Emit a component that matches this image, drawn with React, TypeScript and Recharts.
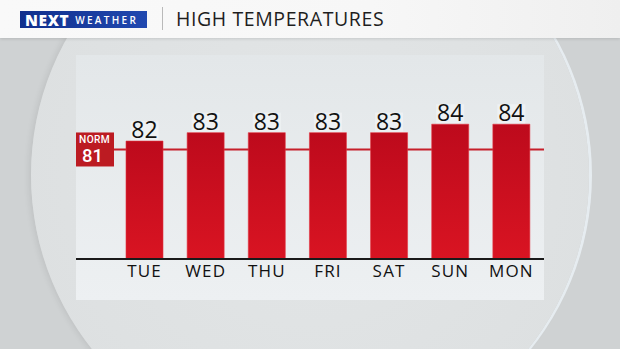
import { BarChart, Bar, XAxis, YAxis, ReferenceLine, LabelList } from "recharts";

const DAYS = ["TUE", "WED", "THU", "FRI", "SAT", "SUN", "MON"];
const HIGHS = [82, 83, 83, 83, 83, 84, 84];
const NORMAL_HIGH = 81;
const Y_DOMAIN = [68, 88];

const TITLE = "HIGH TEMPERATURES";

const FONT = "'Open Sans', 'Noto Sans', sans-serif";
const BOX_FONT = "Roboto, 'Open Sans', sans-serif";
const RED_LINE = "#c61f2a";
const NORM_RED = "#bc1b22";

const data = DAYS.map((day, i) => ({ day, high: HIGHS[i] }));

const W = 620;
const H = 349;
// plot area: x 76..544, y 90.5..259
const MARGIN_TOP = 90.5;
const MARGIN_SIDE = 76;
const X_PAD = { left: 38, right: 2 };

function ValueLabel(props: any) {
  const { x, y, width, value } = props;
  const cx = x + width / 2;
  return (
    <g>
      <rect x={cx - 14} y={y - 20} width={28} height={19} fill="#eef1f3" />
      <text
        x={cx}
        y={y - 3}
        textAnchor="middle"
        fontFamily={FONT}
        fontSize={23}
        fontWeight={500}
        fill="#111"
      >
        {value}
      </text>
    </g>
  );
}

function NormLabel(props: any) {
  const { viewBox } = props;
  const x = viewBox.x;
  const y = viewBox.y;
  return (
    <g>
      <rect x={x} y={y - 17} width={38} height={34} fill={NORM_RED} />
      <text x={x + 3} y={y - 6.5} fontFamily={BOX_FONT} fontSize={10.2} fontWeight={500} fill="#fff" letterSpacing={0.4}>
        NORM
      </text>
      <text x={x + 6} y={y + 13} fontFamily={BOX_FONT} fontSize={18.5} fontWeight={500} fill="#fff">
        {NORMAL_HIGH}
      </text>
    </g>
  );
}

export default function App() {
  return (
    <div
      style={{
        position: "relative",
        width: W,
        height: H,
        overflow: "hidden",
        background: "#cfd2d3",
        fontFamily: FONT,
      }}
    >
      <style>{`body{margin:0}`}</style>
      {/* big circle backdrop */}
      <div
        style={{
          position: "absolute",
          left: 31,
          top: -104,
          width: 558,
          height: 558,
          borderRadius: "50%",
          background: "radial-gradient(circle at 50% 50%, #e3e6e7 0%, #dde0e1 75%, #cbcecf 100%)",
          boxShadow: "3px 0 0 #e6ecf0, -2px 0 6px rgba(0,0,0,0.08)",
        }}
      />
      {/* header */}
      <div
        style={{
          position: "absolute",
          left: 0,
          top: 0,
          width: W,
          height: 38,
          background: "linear-gradient(to right, #f9f9f9 0%, #f7f7f7 60%, #efefef 100%)",
          boxShadow: "0 1px 3px rgba(0,0,0,0.12)",
        }}
      >
        <div
          style={{
            position: "absolute",
            left: 20,
            top: 11,
            width: 127,
            height: 17,
            background: "linear-gradient(to right, #102f8c, #2149b0)",
            color: "#fff",
            display: "flex",
            alignItems: "center",
          }}
        >
          <span style={{ marginLeft: 5, fontSize: 15.5, fontWeight: 800, letterSpacing: 0.6 }}>NEXT</span>
          <span style={{ marginLeft: 6, fontSize: 10, fontWeight: 600, letterSpacing: 2.3 }}>WEATHER</span>
        </div>
        <div
          style={{
            position: "absolute",
            left: 162,
            top: 7,
            width: 1,
            height: 23,
            background: "#b9b9b9",
          }}
        />
        <div
          style={{
            position: "absolute",
            left: 176,
            top: 5,
            fontSize: 19.5,
            fontWeight: 500,
            letterSpacing: 0.6,
            color: "#1e1e1e",
            lineHeight: "28px",
          }}
        >
          {TITLE}
        </div>
      </div>
      {/* panel */}
      <div
        style={{
          position: "absolute",
          left: 76,
          top: 55,
          width: 468,
          height: 245,
          background: "linear-gradient(to bottom, #e3e7e9, #edf0f2)",
        }}
      />
      {/* normal line layer (behind the bars) */}
      <div style={{ position: "absolute", left: 0, top: 0 }}>
        <BarChart
          width={W}
          height={H}
          data={data}
          margin={{ top: MARGIN_TOP, right: MARGIN_SIDE, bottom: 90, left: MARGIN_SIDE }}
        >
          <YAxis hide domain={Y_DOMAIN} allowDataOverflow />
          <XAxis dataKey="day" hide padding={X_PAD} />
          <ReferenceLine y={NORMAL_HIGH} stroke={RED_LINE} strokeWidth={2} label={<NormLabel />} />
        </BarChart>
      </div>
      {/* bars layer */}
      <div style={{ position: "absolute", left: 0, top: 0 }}>
        <BarChart
          width={W}
          height={H}
          data={data}
          margin={{ top: MARGIN_TOP, right: MARGIN_SIDE, bottom: 60, left: MARGIN_SIDE }}
        >
          <defs>
            <linearGradient id="barGrad" x1="0" y1="0" x2="0" y2="1">
              <stop offset="0%" stopColor="#bd0a1c" />
              <stop offset="100%" stopColor="#d91422" />
            </linearGradient>
          </defs>
          <YAxis hide domain={Y_DOMAIN} allowDataOverflow />
          <XAxis
            dataKey="day"
            height={30}
            padding={X_PAD}
            stroke="#1a1a1a"
            strokeWidth={2}
            tickLine={false}
            tickSize={6}
            tickMargin={0}
            interval={0}
            tick={{ fill: "#111", fontSize: 17, fontWeight: 500, fontFamily: FONT, letterSpacing: 1.2 }}
          />
          <Bar
            dataKey="high"
            barSize={37}
            fill="url(#barGrad)"
            stroke="#e2343f"
            strokeWidth={0.6}
            isAnimationActive={false}
          >
            <LabelList dataKey="high" content={<ValueLabel />} />
          </Bar>
        </BarChart>
      </div>
    </div>
  );
}
